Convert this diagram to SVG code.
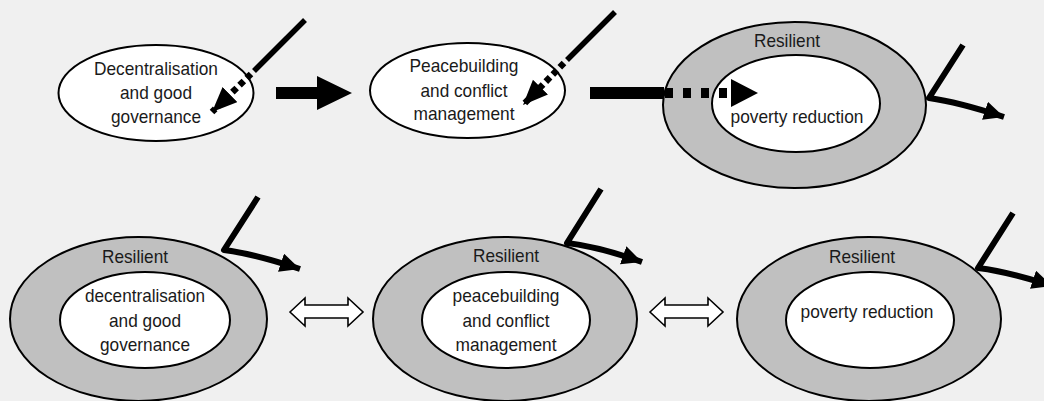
<svg xmlns="http://www.w3.org/2000/svg" width="1044" height="401" viewBox="0 0 1044 401">
<defs>
<style>
.bg{fill:#f0f0f0}
.outer{fill:#c0c0c0;stroke:#000;stroke-width:2}
.inner{fill:#fff;stroke:#000;stroke-width:2}
.t{font-family:"Liberation Sans",Arial,sans-serif;font-size:19px;fill:#1a1a1a;text-anchor:middle}
.solid{fill:none;stroke:#000;stroke-width:5.5}
.dots{fill:none;stroke:#000;stroke-width:6.5;stroke-dasharray:6 4}
.exit{fill:none;stroke:#000;stroke-width:6;stroke-linejoin:round}
.blk{fill:#000}
.dbl{fill:#fff;stroke:#000;stroke-width:1.6}
</style>
<marker id="dhead" markerUnits="userSpaceOnUse" markerWidth="26" markerHeight="22" refX="25" refY="10.5" orient="auto">
<path d="M0,0 L25,10.5 L0,21 z" fill="#000"/>
</marker>
<marker id="ehead" markerUnits="userSpaceOnUse" markerWidth="22" markerHeight="20" refX="20" refY="9.5" orient="auto">
<path d="M0,0 L20,9.5 L0,19 z" fill="#000"/>
</marker>
</defs>
<rect class="bg" x="0" y="0" width="1044" height="401"/>

<g id="node-decentralisation">
<ellipse class="inner" cx="156" cy="93" rx="97.5" ry="48"/>
<text class="t" x="156" y="75" textLength="124" lengthAdjust="spacingAndGlyphs">Decentralisation</text>
<text class="t" x="156" y="99" textLength="72" lengthAdjust="spacingAndGlyphs">and good</text>
<text class="t" x="156" y="123" textLength="90" lengthAdjust="spacingAndGlyphs">governance</text>
</g>

<g id="node-peacebuilding">
<ellipse class="inner" cx="467.5" cy="90.5" rx="97.5" ry="47.5"/>
<text class="t" x="464" y="72" textLength="109" lengthAdjust="spacingAndGlyphs">Peacebuilding</text>
<text class="t" x="464" y="97" textLength="87" lengthAdjust="spacingAndGlyphs">and conflict</text>
<text class="t" x="464" y="120" textLength="101" lengthAdjust="spacingAndGlyphs">management</text>
</g>

<g id="node-resilient-poverty-top">
<ellipse class="outer" cx="794.5" cy="105" rx="131.5" ry="83"/>
<ellipse class="inner" cx="796" cy="103.5" rx="84" ry="48.5"/>
<text class="t" x="787" y="47" textLength="66" lengthAdjust="spacingAndGlyphs">Resilient</text>
<text class="t" x="797" y="123" textLength="133" lengthAdjust="spacingAndGlyphs">poverty reduction</text>
</g>

<g id="node-resilient-decentralisation">
<ellipse class="outer" cx="138.5" cy="319" rx="128.5" ry="82"/>
<ellipse class="inner" cx="145" cy="320" rx="85" ry="48"/>
<text class="t" x="135" y="263" textLength="66" lengthAdjust="spacingAndGlyphs">Resilient</text>
<text class="t" x="145" y="302" textLength="120" lengthAdjust="spacingAndGlyphs">decentralisation</text>
<text class="t" x="145" y="327" textLength="72" lengthAdjust="spacingAndGlyphs">and good</text>
<text class="t" x="145" y="351" textLength="90" lengthAdjust="spacingAndGlyphs">governance</text>
</g>

<g id="node-resilient-peacebuilding">
<ellipse class="outer" cx="505" cy="319" rx="132" ry="82"/>
<ellipse class="inner" cx="506" cy="320" rx="84" ry="48"/>
<text class="t" x="506" y="262" textLength="66" lengthAdjust="spacingAndGlyphs">Resilient</text>
<text class="t" x="506" y="302" textLength="107" lengthAdjust="spacingAndGlyphs">peacebuilding</text>
<text class="t" x="506" y="327" textLength="87" lengthAdjust="spacingAndGlyphs">and conflict</text>
<text class="t" x="506" y="351" textLength="101" lengthAdjust="spacingAndGlyphs">management</text>
</g>

<g id="node-resilient-poverty-bottom">
<ellipse class="outer" cx="869" cy="319" rx="132" ry="82"/>
<ellipse class="inner" cx="870" cy="320" rx="84" ry="48"/>
<text class="t" x="862" y="263" textLength="66" lengthAdjust="spacingAndGlyphs">Resilient</text>
<text class="t" x="867" y="318" textLength="133" lengthAdjust="spacingAndGlyphs">poverty reduction</text>
</g>

<g id="connectors">
<path class="solid" d="M305,20 L254,71"/>
<path class="dots" d="M251,74 L212,112" marker-end="url(#dhead)"/>
<path class="solid" d="M615,12 L567,60"/>
<path class="dots" d="M564,63 L523,105" marker-end="url(#dhead)"/>
<polygon class="blk" points="276,87 317,87 317,76 352,93 317,110 317,99 276,99"/>
<rect class="blk" x="590" y="87" width="74" height="12"/>
<path d="M665,93 L731,93" fill="none" stroke="#000" stroke-width="10" stroke-dasharray="8 10"/>
<polygon class="blk" points="731,79 758,93 731,107"/>
<path class="exit" d="M963,45 L929,98 Q958,102 1004,117" marker-end="url(#ehead)"/>
<path class="exit" d="M258,197 L224,250 Q255,254 300,269" marker-end="url(#ehead)"/>
<path class="exit" d="M601,189 L567,243 Q600,247 642,262" marker-end="url(#ehead)"/>
<path class="exit" d="M1013,213 L978,268 Q1010,272 1052,286" marker-end="url(#ehead)"/>
<polygon class="dbl" points="290,312 305,298 305,305 348,305 348,298 363,312 348,326 348,318 305,318 305,326"/>
<polygon class="dbl" points="650,312 665,298 665,305 708,305 708,298 723,312 708,326 708,318 665,318 665,326"/>
</g>
</svg>
